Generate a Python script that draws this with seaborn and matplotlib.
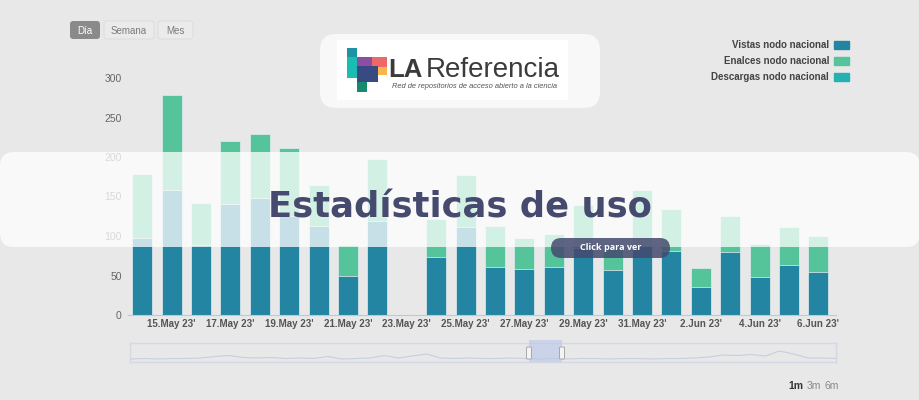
import numpy as np
import pandas as pd
import seaborn as sns
import matplotlib
matplotlib.use("Agg")
import matplotlib.pyplot as plt
from matplotlib.patches import FancyBboxPatch, Rectangle, Patch

# datos del grafico
fechas = ["14.May", "15.May", "16.May", "17.May", "18.May", "19.May", "20.May", "21.May",
          "22.May", "23.May", "24.May", "25.May", "26.May", "27.May", "28.May", "29.May",
          "30.May", "31.May", "1.Jun", "2.Jun", "3.Jun", "4.Jun", "5.Jun", "6.Jun"]
vistas = [97, 158, 89, 140, 148, 125, 113, 50, 119, 0, 73, 112,
          61, 58, 61, 85, 57, 88, 81, 35, 80, 48, 63, 55]
enlaces = [81, 121, 53, 80, 81, 86, 52, 38, 79, 0, 49, 65,
           52, 40, 41, 54, 35, 70, 53, 25, 45, 42, 48, 45]
descargas = [0] * 24
etiquetas_x = ["15.May 23'", "17.May 23'", "19.May 23'", "21.May 23'", "23.May 23'",
               "25.May 23'", "27.May 23'", "29.May 23'", "31.May 23'", "2.Jun 23'",
               "4.Jun 23'", "6.Jun 23'"]
series = ["Vistas nodo nacional", "Enalces nodo nacional", "Descargas nodo nacional"]
# linea del navegador (escala relativa)
navegador = [3, 3.5, 3, 3.5, 3.5, 4, 5.5, 6.5, 4.5, 4, 4.5, 3.5, 4, 3.5, 5.5, 3, 3.5,
             4, 6.5, 4, 6, 8, 4, 3.5, 4, 3.5, 3.5, 4, 3.5, 3, 3.5, 3, 3.5, 3.5, 3,
             3.5, 3.5, 3, 3.5, 3.5, 4, 5, 7, 6.5, 7.5, 6, 11, 8, 4, 4, 3.5]

c_vistas = "#2385a2"
c_enlaces = "#55c49a"
c_descargas = "#24b1b1"
fondo = "#e8e8e8"

df = pd.DataFrame({"fecha": fechas, "vistas": vistas, "enlaces": enlaces, "descargas": descargas})
df["tope_enlaces"] = df["vistas"] + df["enlaces"]
df["total"] = df["tope_enlaces"] + df["descargas"]

sns.set_style("white")
plt.rcParams["font.family"] = ["Liberation Sans", "DejaVu Sans"]

fig = plt.figure(figsize=(9.2, 4), dpi=100, facecolor=fondo)
W, H = 920, 400


def px(x, y):
    return x / 100, (H - y) / 100


def caja(x0, y0, x1, y1, r, **kw):
    p = FancyBboxPatch(px(x0, y1), (x1 - x0) / 100, (y1 - y0) / 100,
                       boxstyle=f"round,pad=0,rounding_size={r / 100}",
                       transform=fig.dpi_scale_trans, **kw)
    fig.patches.append(p)
    return p


def texto(x, y, s, **kw):
    return fig.text(*px(x, y), s, transform=fig.dpi_scale_trans, **kw)


# grafico principal
ax = fig.add_axes([128 / W, 1 - 315 / H, 708 / W, 237 / H])
ax.set_facecolor(fondo)
kw = dict(width=0.68, saturation=1, edgecolor="#e8eef2", linewidth=0.5, ax=ax)
sns.barplot(data=df, x="fecha", y="total", color=c_descargas, **kw)
sns.barplot(data=df, x="fecha", y="tope_enlaces", color=c_enlaces, **kw)
sns.barplot(data=df, x="fecha", y="vistas", color=c_vistas, **kw)
ax.set_xlim(-0.48, 23.6)
ax.set_ylim(0, 300)
ax.set_xlabel("")
ax.set_ylabel("")
ax.set_yticks(range(0, 301, 50))
ax.tick_params(axis="y", length=0, pad=4.5, labelsize=7.5, labelcolor="#666666")
ax.set_xticks(range(1, 24, 2), etiquetas_x)
ax.set_xticks(np.arange(0.5, 23, 2), minor=True)
ax.tick_params(axis="x", which="major", length=0, pad=3, labelsize=7, labelcolor="#555555")
ax.tick_params(axis="x", which="minor", length=5, width=0.8, color="#c0c8d8")
for t in ax.get_xticklabels():
    t.set_fontweight("bold")
for s in ["top", "left", "right"]:
    ax.spines[s].set_visible(False)
ax.spines["bottom"].set_color("#c0c8d8")

# leyenda
handles = [Patch(facecolor=c, edgecolor=c) for c in [c_vistas, c_enlaces, c_descargas]]
leg = fig.legend(handles, series, loc="upper right", bbox_to_anchor=(849 / W, 1 - 40 / H),
                 frameon=False, markerfirst=False, fontsize=7, handlelength=1.55,
                 handleheight=0.85, handletextpad=0.5, labelspacing=0.62,
                 borderpad=0, borderaxespad=0)
for t in leg.get_texts():
    t.set_color("#444444")
    t.set_fontweight("bold")

# botones de periodo
caja(70, 21, 100, 39, 3, facecolor="#8a8a8a", edgecolor="none")
texto(85, 30.5, "Día", ha="center", va="center", fontsize=7, color="white")
for x0, x1, lab in [(104, 154, "Semana"), (158, 193, "Mes")]:
    caja(x0, 21, x1, 39, 3, facecolor="#ebebeb", edgecolor="#dedede", linewidth=0.8)
    texto((x0 + x1) / 2, 30.5, lab, ha="center", va="center", fontsize=7, color="#7a7a7a")

# navegador
axn = fig.add_axes([130 / W, 1 - 362 / H, 706 / W, 19 / H])
axn.set_facecolor(fondo)
sns.lineplot(x=np.arange(len(navegador)), y=navegador, color="#c9cedc", linewidth=0.8, ax=axn)
axn.set_xlim(0, len(navegador) - 1)
axn.set_ylim(0, 19)
axn.set_xticks([])
axn.set_yticks([])
for s in axn.spines.values():
    s.set_color("#d3d8e4")
    s.set_linewidth(1)
fig.patches.append(Rectangle(px(529, 362), 33 / 100, 22 / 100, transform=fig.dpi_scale_trans,
                             facecolor="#b8c6ea", alpha=0.6, edgecolor="none"))
for hx in [529, 562]:
    caja(hx - 2.5, 347, hx + 2.5, 359, 1, facecolor="#f4f4f4", edgecolor="#a8a8a8", linewidth=0.7)

texto(796, 386, "1m", ha="center", va="center", fontsize=7.5, color="#333333", fontweight="bold")
texto(814, 386, "3m", ha="center", va="center", fontsize=7.5, color="#8a8a8a")
texto(832, 386, "6m", ha="center", va="center", fontsize=7.5, color="#8a8a8a")

# caja del logo
caja(320, 34, 600, 108, 16, facecolor="#f8f8f8", edgecolor="none")
fig.patches.append(Rectangle(px(337, 100), 231 / 100, 60 / 100, transform=fig.dpi_scale_trans,
                             facecolor="#ffffff", edgecolor="none"))
for (x0, y0, x1, y1, c) in [(347, 48, 357, 57, "#1d93a3"), (347, 57, 357, 78, "#19bdb4"),
                            (357, 57, 372, 67, "#8b4fa1"), (372, 57, 387, 67, "#ef6868"),
                            (378, 67, 387, 75, "#f8b54c"), (357, 66, 378, 82, "#374a82"),
                            (357, 82, 367, 92, "#168a6c")]:
    fig.patches.append(Rectangle(px(x0, y1), (x1 - x0) / 100, (y1 - y0) / 100,
                                 transform=fig.dpi_scale_trans, facecolor=c, edgecolor="none"))
texto(388, 77, "LA", ha="left", va="baseline", fontsize=18.5, fontweight="bold",
      color="#3b3b3b")
texto(426, 77, "Referencia", ha="left", va="baseline", fontsize=20, color="#3b3b3b")
texto(392, 87, "Red de repositorios de acceso abierto a la ciencia", ha="left",
      va="center", fontsize=5.4, color="#555555", style="italic")

# banda superpuesta
caja(0, 152, 920, 247, 14, facecolor="white", alpha=0.75, edgecolor="none")
texto(460, 217, "Estadísticas de uso", ha="center", va="baseline", fontsize=25.5,
      fontweight="bold", color="#454a6e", family=["DejaVu Sans"])
caja(551, 238, 670, 258, 10, facecolor="#454a6e", alpha=0.85, edgecolor="none")
texto(610.5, 248, "Click para ver", ha="center", va="center", fontsize=6.5,
      fontweight="bold", color="white", family=["Open Sans", "DejaVu Sans"])

fig.savefig("out.png", dpi=100, facecolor=fondo)
